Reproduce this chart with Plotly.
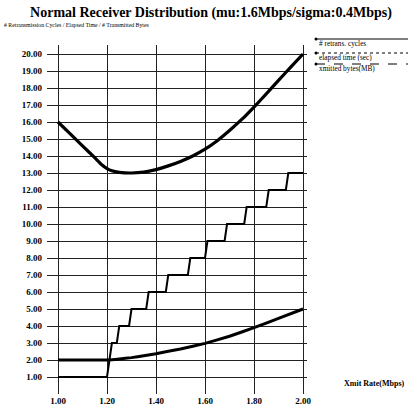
import plotly.graph_objects as go

# ---- data ----
retrans_x = [1.00, 1.20, 1.21, 1.22, 1.24, 1.25, 1.29, 1.30, 1.36, 1.37, 1.44, 1.45, 1.53,
             1.54, 1.60, 1.61, 1.68, 1.69, 1.76, 1.77, 1.85, 1.86, 1.93, 1.94, 2.00]
retrans_y = [1, 1, 2, 3, 3, 4, 4, 5, 5, 6, 6, 7, 7, 8, 8, 9, 9, 10, 10, 11, 11, 12, 12, 13, 13]

elapsed_x = [1.00, 1.05, 1.10, 1.15, 1.18, 1.20, 1.22, 1.25, 1.30, 1.35, 1.40, 1.45, 1.50,
             1.55, 1.60, 1.65, 1.70, 1.75, 1.80, 1.85, 1.90, 1.95, 2.00]
elapsed_y = [16.0, 15.3, 14.6, 13.9, 13.47, 13.26, 13.13, 13.04, 13.0, 13.05, 13.2, 13.42, 13.68,
             14.0, 14.4, 14.9, 15.5, 16.15, 16.88, 17.65, 18.45, 19.23, 20.0]

bytes_x = [1.00, 1.20, 1.25, 1.30, 1.35, 1.40, 1.50, 1.60, 1.70, 1.80, 1.90, 2.00]
bytes_y = [2.0, 2.0, 2.06, 2.14, 2.25, 2.37, 2.65, 2.98, 3.4, 3.9, 4.45, 5.0]

x_ticks = [1.0, 1.2, 1.4, 1.6, 1.8, 2.0]
x_ticktext = ["1.00", "1.20", "1.40", "1.60", "1.80", "2.00"]
y_ticks = list(range(1, 21))
y_ticktext = [f"{v}.00" for v in y_ticks]

legend_names = ["# retrans. cycles", "elapsed time (sec)", "xmitted bytes(MB)"]
legend_dash = ["solid", "dot", "dash"]

title_text = "Normal Receiver Distribution (mu:1.6Mbps/sigma:0.4Mbps)"
subtitle_text = "# Retransmission Cycles / Elapsed Time / # Transmitted Bytes"
xlabel_text = "Xmit Rate(Mbps)"

# ---- layout geometry ----
W, H = 408, 406
L, R, T, B = 47, 101, 45, 12
PW, PH = W - L - R, H - T - B


def px(xp):
    return (xp - L) / PW


def py(yp):
    return (H - B - yp) / PH


SERIF = "Liberation Serif, Times New Roman, serif"

fig = go.Figure()
fig.add_trace(go.Scatter(x=retrans_x, y=retrans_y, mode="lines",
                         line=dict(color="black", width=2), showlegend=False))
fig.add_trace(go.Scatter(x=elapsed_x, y=elapsed_y, mode="lines",
                         line=dict(color="black", width=3.2, shape="spline", smoothing=0.3),
                         showlegend=False))
fig.add_trace(go.Scatter(x=bytes_x, y=bytes_y, mode="lines",
                         line=dict(color="black", width=3, shape="spline", smoothing=0.3),
                         showlegend=False))

xr = [1 - 11 / 245, 2 + 4 / 245]
yr = [1 - 17 / 17, 20 + 9 / 17]

fig.update_layout(
    width=W, height=H,
    margin=dict(l=L, r=R, t=T, b=B, autoexpand=False),
    paper_bgcolor="white", plot_bgcolor="white",
    font=dict(family=SERIF, color="black"),
    title=dict(text=f"<b>{title_text}</b>", x=211 / W, xanchor="center",
               y=1 - 12 / H, yanchor="middle", font=dict(size=14, family=SERIF)),
    xaxis=dict(range=xr, tickvals=x_ticks, ticktext=x_ticktext, showline=False,
               zeroline=False, showgrid=True, gridcolor="#222", gridwidth=1,
               ticks="", automargin=False, ticklabelstandoff=0,
               tickfont=dict(size=9, family=SERIF, weight="bold")),
    yaxis=dict(range=yr, tickvals=y_ticks, ticktext=y_ticktext, showline=False,
               zeroline=False, showgrid=True, gridcolor="#222", gridwidth=1,
               ticks="", automargin=False, ticklabelstandoff=4,
               tickfont=dict(size=9, family=SERIF, weight="bold")),
)

annotations = [
    dict(text=subtitle_text, x=px(2), y=py(25), xref="paper", yref="paper",
         xanchor="left", yanchor="middle", showarrow=False,
         font=dict(size=5.8, family=SERIF)),
    dict(text=f"<b>{xlabel_text}</b>", x=px(374), y=py(383), xref="paper", yref="paper",
         xanchor="center", yanchor="middle", showarrow=False,
         font=dict(size=8, family=SERIF)),
]
shapes = []
line_ys = [39, 53, 64]
text_ys = [43.5, 57, 68]
for name, dash, ly, ty in zip(legend_names, legend_dash, line_ys, text_ys):
    shapes.append(dict(type="line", xref="paper", yref="paper",
                       x0=px(316), x1=px(408), y0=py(ly), y1=py(ly),
                       line=dict(color="black", width=1, dash=dash)))
    shapes.append(dict(type="circle", xref="paper", yref="paper",
                       x0=px(314.5), x1=px(317.5), y0=py(ly + 1.5), y1=py(ly - 1.5),
                       fillcolor="black", line=dict(color="black", width=0)))
    annotations.append(dict(text=name, x=px(317), y=py(ty), xref="paper", yref="paper",
                            xanchor="left", yanchor="middle", showarrow=False,
                            font=dict(size=7.3, family=SERIF)))

fig.update_layout(annotations=annotations, shapes=shapes)
fig.write_html("out.html", config={"displayModeBar": False},
               post_script="document.body.style.margin='0';")
